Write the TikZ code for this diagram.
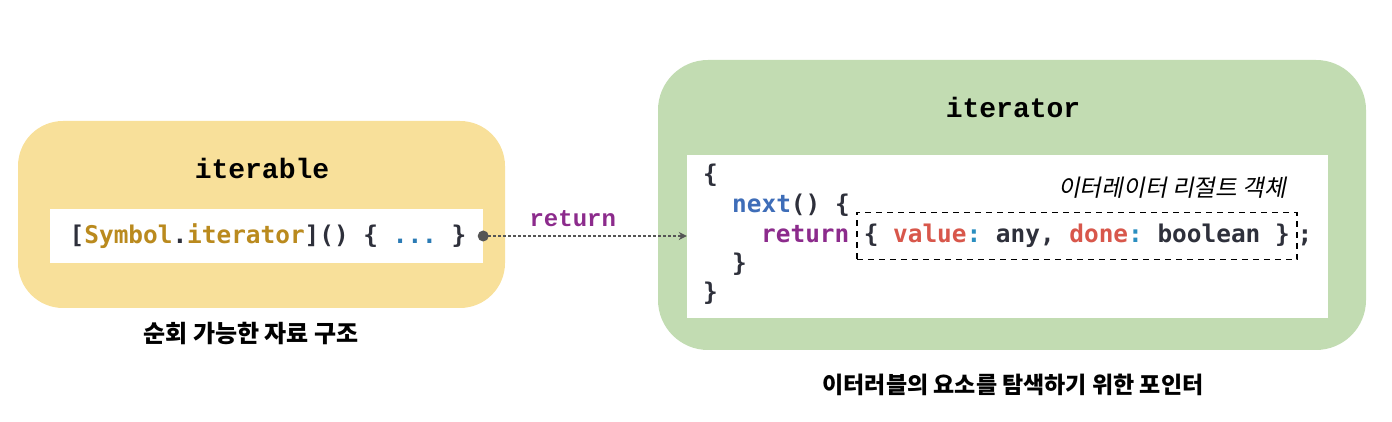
\documentclass[tikz,border=0pt]{standalone}
\usepackage{fontspec}
\setmonofont{DejaVu Sans Mono}
\newfontfamily\slabfont{Liberation Mono}
\newfontfamily\krfont{Noto Sans CJK KR}
\newfontfamily\krslant[FakeSlant=0.2]{Noto Sans CJK KR}
\usetikzlibrary{arrows.meta}
\definecolor{boxyellow}{HTML}{F8E09A}
\definecolor{boxgreen}{HTML}{C2DCB2}
\definecolor{symgold}{HTML}{BA8A1E}
\definecolor{dotblue}{HTML}{2B7BB5}
\definecolor{nextblue}{HTML}{3E6DB8}
\definecolor{retpurple}{HTML}{8C2B8C}
\definecolor{keyred}{HTML}{D8574B}
\definecolor{colonblue}{HTML}{2A8EC0}
\definecolor{codedark}{HTML}{2E303B}
\definecolor{arrowgray}{HTML}{555555}
\tikzset{
  panel/.style={inner sep=0pt},
  sheet/.style={fill=white, inner sep=0pt},
  code/.style={font=\fontsize{24.4}{28}\selectfont\ttfamily\bfseries, text=codedark,
    inner sep=0pt, text height=18pt, text depth=5pt},
  title/.style={font=\fontsize{28}{32}\selectfont\slabfont\bfseries, inner sep=0pt},
  caption/.style={font=\fontsize{23}{27}\selectfont\krfont\bfseries, inner sep=0pt},
}
\begin{document}
\begin{tikzpicture}[x=1pt,y=1pt]
  \useasboundingbox (0,0) rectangle (1392,422);
  %% iterable
  \node[panel, rounded corners=45pt, fill=boxyellow, minimum width=487pt, minimum height=187pt] (iterable) at (261.5,207.5) {};
  \node[title] (iterabletitle) at (262,254) {iterable};
  \node[sheet, minimum width=433pt, minimum height=54pt] (iterablebody) at (266.5,186) {};
  \node[code] (iterablecode) at (268,185) {[\textcolor{symgold}{Symbol}.\textcolor{symgold}{iterator}]() \{ \textcolor{dotblue}{...} \}};
  \node[caption, font=\fontsize{24}{28}\selectfont\krfont\bfseries] (iterablecaption) at (251,88) {순회 가능한 자료 구조};
  %% iterator
  \node[panel, rounded corners=50pt, fill=boxgreen, minimum width=708pt, minimum height=290pt] (iterator) at (1012,217) {};
  \node[title] (iteratortitle) at (1013,315) {iterator};
  \node[sheet, minimum width=641pt, minimum height=163pt] (iteratorbody) at (1007.5,185.5) {};
  \node[code, anchor=west] (open) at (703,246) {\{};
  \node[code, anchor=west] (next) at (732,216) {\textcolor{nextblue}{next}() \{};
  \node[code, anchor=west] (ret) at (761,186) {\textcolor{retpurple}{return}};
  \node[code, anchor=west, draw=black, line width=1.5pt, dash pattern=on 6pt off 5pt,
    inner xsep=7pt, inner ysep=12pt] (result) at (856,186)
    {\{ \textcolor{keyred}{value}\textcolor{colonblue}{:} any, \textcolor{keyred}{done}\textcolor{colonblue}{:} boolean \}};
  \node[code, anchor=west] (semi) at (result.east) {;};
  \node[code, anchor=west] (close) at (732,157) {\}};
  \node[code, anchor=west] (end) at (703,128) {\}};
  \node[font=\fontsize{23.6}{27}\selectfont\krslant, inner sep=0pt] (resultlabel) at (1172,234) {이터레이터 리절트 객체};
  \node[caption] (iteratorcaption) at (1013,37) {이터러블의 요소를 탐색하기 위한 포인터};
  %% return
  \fill[arrowgray] (iterablebody.east) circle (5.5pt);
  \draw[arrowgray, line width=2.5pt, dash pattern=on 2.5pt off 2.5pt, -{Stealth[length=8pt,width=8pt]}]
    (iterablebody.east) -- (iterablebody.east -| iteratorbody.west)
    node[pos=0.44, above=8pt, inner sep=0pt, font=\fontsize{24}{28}\selectfont\slabfont\bfseries, text=retpurple] (retlabel) {return};
\end{tikzpicture}
\end{document}
